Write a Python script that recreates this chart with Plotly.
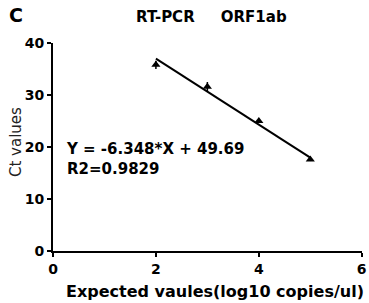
import plotly.graph_objects as go

x_vals = [2, 3, 4, 5]
ct_vals = [35.8, 31.6, 25.0, 17.6]
ct_err = [0.8, 0.9, 0.4, 0.3]
slope = -6.348
intercept = 49.69
x_ticks = [0, 2, 4, 6]
y_ticks = [0, 10, 20, 30, 40]

fit_x = [2, 5]
fit_y = [slope * v + intercept for v in fit_x]

FONT = "DejaVu Sans, sans-serif"
W, H = 369, 303
ML, MR, MT, MB = 53, 7, 43, 52
pw = W - ML - MR
ph = H - MT - MB

def px(x):
    return (x - ML) / pw

def py(y):
    return 1 - (y - MT) / ph

fig = go.Figure()
fig.add_trace(go.Scatter(x=fit_x, y=fit_y, mode="lines",
                         line=dict(color="black", width=2), showlegend=False))
fig.add_trace(go.Scatter(x=x_vals, y=ct_vals, mode="markers",
                         marker=dict(symbol="triangle-up", size=8, color="black"),
                         error_y=dict(type="data", array=ct_err, color="black", thickness=1.5, width=0),
                         showlegend=False))

fig.update_layout(
    width=W, height=H,
    margin=dict(l=ML, r=MR, t=MT, b=MB),
    plot_bgcolor="white", paper_bgcolor="white",
    font=dict(family=FONT, color="black", size=14),
    xaxis=dict(range=[0, 6.005], tickvals=x_ticks, showgrid=False, zeroline=False,
               showline=True, linecolor="black", linewidth=2, automargin=False,
               ticklabeloverflow="allow",
               ticks="outside", ticklen=4, tickwidth=2, tickcolor="black",
               tickfont=dict(family=FONT, size=14, color="black", weight="bold")),
    yaxis=dict(range=[0, 40], tickvals=y_ticks, showgrid=False, zeroline=False,
               showline=True, linecolor="black", linewidth=2, automargin=False,
               ticklabeloverflow="allow",
               ticks="outside", ticklen=4, tickwidth=2, tickcolor="black",
               tickfont=dict(family=FONT, size=14, color="black", weight="bold")),
    annotations=[
        dict(text="<b>C</b>", x=px(7), y=py(15), xref="paper", yref="paper",
             xanchor="left", yanchor="middle", showarrow=False, font=dict(family=FONT, size=19)),
        dict(text="<b>RT-PCR     ORF1ab</b>", x=px(211), y=py(17), xref="paper", yref="paper",
             xanchor="center", yanchor="middle", showarrow=False, font=dict(family=FONT, size=15)),
        dict(text="Ct values", x=px(16), y=py(142), xref="paper", yref="paper", textangle=-90,
             xanchor="center", yanchor="middle", showarrow=False,
             font=dict(family=FONT, size=15, color="#222")),
        dict(text="<b>Expected vaules(log10 copies/ul)</b>", x=px(215), y=py(291), xref="paper", yref="paper",
             xanchor="center", yanchor="middle", showarrow=False, font=dict(family=FONT, size=16)),
        dict(text="<b>Y = -6.348*X + 49.69<br>R2=0.9829</b>", x=px(64), y=py(138), xref="paper", yref="paper",
             xanchor="left", yanchor="top", align="left", showarrow=False,
             font=dict(family=FONT, size=15)),
    ],
)
fig.write_html("out.html", config={"displayModeBar": False},
               post_script="document.body.style.margin='0';document.body.style.padding='0';")
